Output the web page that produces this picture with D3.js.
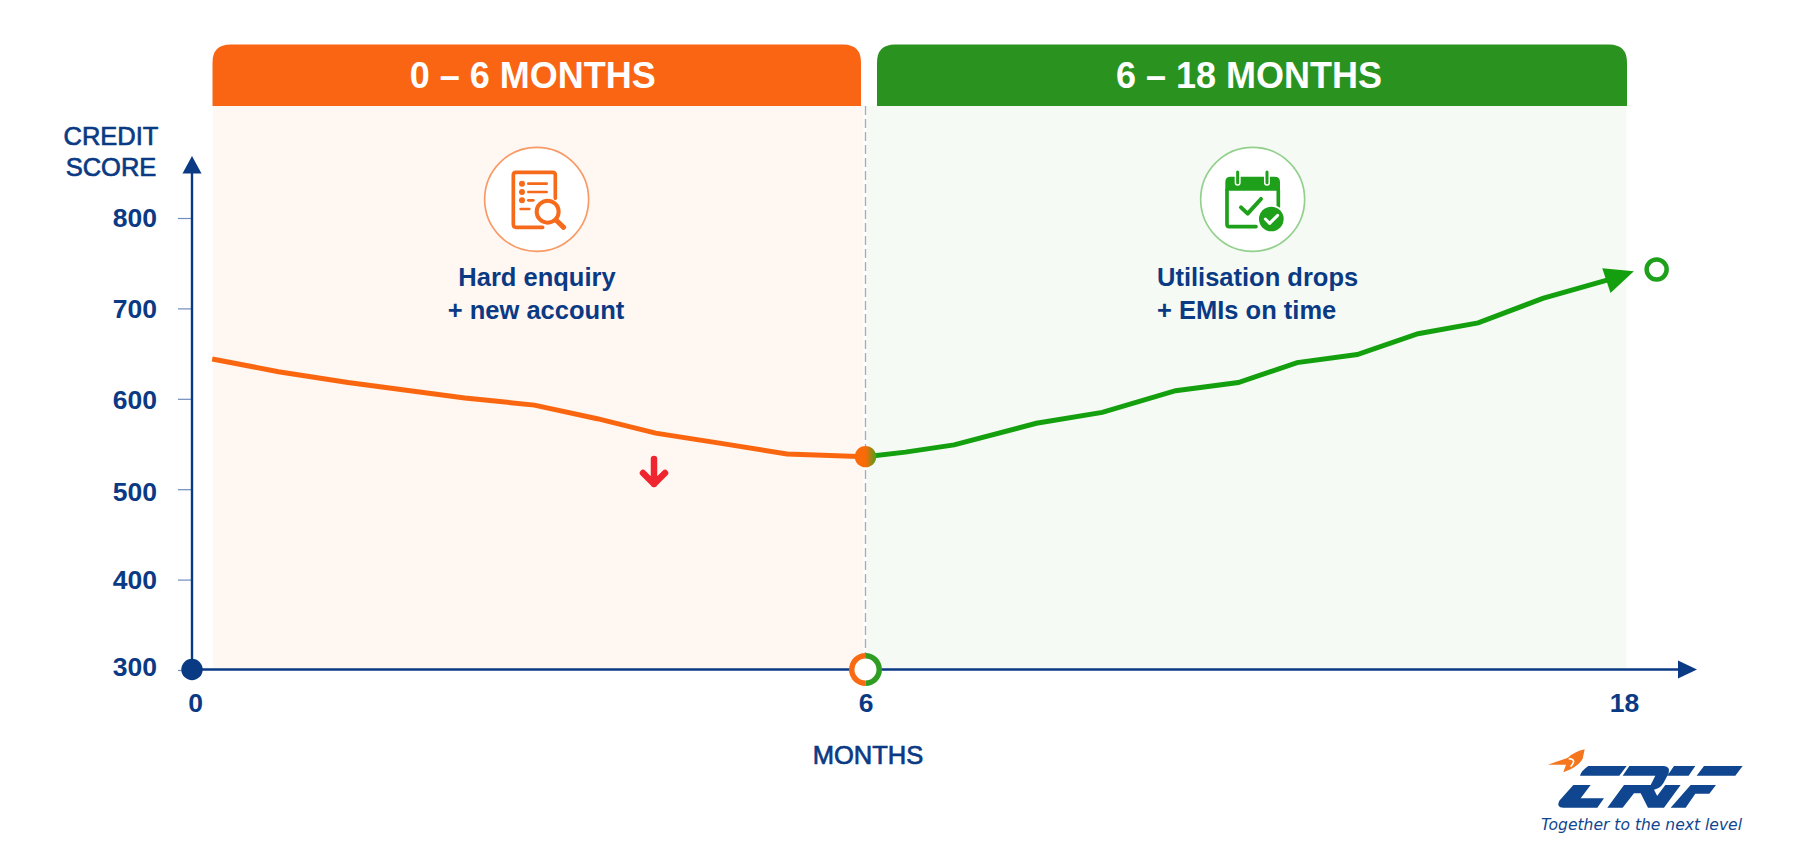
<!DOCTYPE html>
<html><head><meta charset="utf-8">
<script src="https://cdn.jsdelivr.net/npm/d3@7/dist/d3.min.js"></script>
<style>html,body{margin:0;padding:0;background:#fff;overflow:hidden}svg{display:block}
text{font-family:"Liberation Sans",Arial,sans-serif}</style></head>
<body><svg id="c" width="1819" height="865"></svg>
<script>
const phaseLabels = ["0 – 6 MONTHS", "6 – 18 MONTHS"];
const yTicks = [300, 400, 500, 600, 700, 800];
const xTicks = [0, 6, 18];
const declineMonths = [0.18, 0.77, 1.39, 2.43, 3.05, 3.61, 4.13, 4.70, 5.30, 6];
const declineScores = [644, 630, 618, 601, 593, 578, 562, 551, 539, 536];
const recoveryMonths = [6, 6.63, 7.40, 8.70, 9.74, 10.9, 11.89, 12.82, 13.77, 14.73, 15.68, 16.7, 17.8];
const recoveryScores = [536, 541, 549, 573, 585, 609, 618, 640, 649, 672, 684, 711, 733];
const arrowTip = [18.14, 741];
const targetPoint = [18.5, 743];
const navy = "#0b3a84", orange = "#fa660f", green = "#14a00e";

const svg = d3.select("#c");
const x = d3.scaleLinear().domain([0, 6, 18]).range([192, 865.5, 1625]);
const y = d3.scaleLinear().domain([300, 800]).range([670, 218]);
const line = d3.line().x(d => x(d[0])).y(d => y(d[1])).curve(d3.curveLinear);
const zip = (a, b) => a.map((v, i) => [v, b[i]]);

const defs = svg.append("defs");
const g1 = defs.append("linearGradient").attr("id", "mid");
g1.append("stop").attr("offset", "50%").attr("stop-color", "#fb6a08");
g1.append("stop").attr("offset", "95%").attr("stop-color", "#5f9a18");

// panels
const p0 = x(0) + 21, p1 = 863.5, p2 = 866.5, p3 = 1626.5, topY = 106, bot = y(300);
svg.append("rect").attr("x", p0).attr("y", topY).attr("width", p1 - p0).attr("height", bot - topY).attr("fill", "#fff7f1");
svg.append("rect").attr("x", p2).attr("y", topY).attr("width", p3 - p2).attr("height", bot - topY).attr("fill", "#f5fbf4");
const header = (a, b, col, label) => {
  const r = 18, t = 44.5;
  svg.append("path").attr("fill", col).attr("d",
    `M${a},${topY}V${t + r}Q${a},${t} ${a + r},${t}H${b - r}Q${b},${t} ${b},${t + r}V${topY}Z`);
  svg.append("text").attr("x", (a + b) / 2 - (col === "#f96513" ? 4 : 3)).attr("y", 88).attr("text-anchor", "middle")
    .attr("fill", "#fff").attr("font-size", 36).attr("font-weight", 700).text(label);
};
header(212.5, 861, "#f96513", phaseLabels[0]);
header(877, 1627, "#2a931f", phaseLabels[1]);

// divider
svg.append("line").attr("x1", 865.5).attr("x2", 865.5).attr("y1", topY).attr("y2", bot)
  .attr("stroke", "#a9adb0").attr("stroke-width", 1.4).attr("stroke-dasharray", "9 4");

// icons
const iconL = svg.append("g").attr("transform", "translate(400,130) scale(0.3333)");
iconL.append("circle").attr("cx", 410).attr("cy", 208).attr("r", 156).attr("fill", "#fff").attr("stroke", "#f99a66").attr("stroke-width", 5);
const oS = { fill: "none", stroke: "#f66a1c", "stroke-width": 11, "stroke-linecap": "round", "stroke-linejoin": "round" };
const st = (s, o) => { for (const k in o) s.attr(k, o[k]); return s; };
st(iconL.append("path").attr("d", "M466,205V135Q466,127 458,127H348Q340,127 340,135V283Q340,292 348,292H428"), oS);
[[385, 161, 440], [385, 186, 440], [385, 211, 400], [362, 237, 388]].forEach(d =>
  st(iconL.append("line").attr("x1", d[0]).attr("x2", d[2]).attr("y1", d[1]).attr("y2", d[1]), oS).attr("stroke-width", 8));
[161, 186, 211].forEach(c => iconL.append("circle").attr("cx", 366).attr("cy", c).attr("r", 9).attr("fill", "#f66a1c"));
st(iconL.append("circle").attr("cx", 443).attr("cy", 245).attr("r", 33), oS).attr("stroke-width", 12);
st(iconL.append("line").attr("x1", 468).attr("y1", 270).attr("x2", 491).attr("y2", 292), oS).attr("stroke-width", 15);

const iconR = svg.append("g").attr("transform", "translate(1130,130) scale(0.3333)");
iconR.append("circle").attr("cx", 368).attr("cy", 208).attr("r", 156).attr("fill", "#fff").attr("stroke", "#93d08d").attr("stroke-width", 5);
const gC = "#1ea01a";
iconR.append("path").attr("fill", gC).attr("d", "M286,182V156Q286,140 302,140H434Q450,140 450,156V182Z");
st(iconR.append("path").attr("d", "M291,180V283Q291,290 298,290H378M445,180V232"), { fill: "none", stroke: gC, "stroke-width": 11, "stroke-linecap": "round" });
[323, 411].forEach(c => {
  iconR.append("line").attr("x1", c).attr("x2", c).attr("y1", 126).attr("y2", 158).attr("stroke", "#fff").attr("stroke-width", 18).attr("stroke-linecap", "round");
  iconR.append("line").attr("x1", c).attr("x2", c).attr("y1", 126).attr("y2", 158).attr("stroke", gC).attr("stroke-width", 9).attr("stroke-linecap", "round");
});
st(iconR.append("path").attr("d", "M333,232L353,251L393,207"), { fill: "none", stroke: gC, "stroke-width": 12, "stroke-linecap": "round", "stroke-linejoin": "round" });
iconR.append("circle").attr("cx", 424).attr("cy", 267).attr("r", 42).attr("fill", "#fff");
iconR.append("circle").attr("cx", 424).attr("cy", 267).attr("r", 37).attr("fill", gC);
st(iconR.append("path").attr("d", "M406,267L419,280L443,256"), { fill: "none", stroke: "#fff", "stroke-width": 9, "stroke-linecap": "round", "stroke-linejoin": "round" });

// captions
const cap = (px, py, anchor, s) => svg.append("text").attr("x", px).attr("y", py).attr("text-anchor", anchor)
  .attr("fill", navy).attr("font-size", 25.5).attr("font-weight", 700).text(s);
cap(537, 286, "middle", "Hard enquiry");
cap(536, 319, "middle", "+ new account");
cap(1157, 286, "start", "Utilisation drops");
cap(1157, 319, "start", "+ EMIs on time");

// axes through D3
const yAxis = svg.append("g").attr("transform", "translate(192,0)")
  .call(d3.axisLeft(y).tickValues(yTicks).tickSize(14).tickPadding(21).tickFormat(d3.format("d")));
yAxis.select(".domain").remove();
yAxis.selectAll("line").attr("stroke", "#6f8cbb").attr("stroke-width", 1.2);
yAxis.selectAll("text").attr("fill", navy).attr("font-size", 26.5).attr("font-weight", 700).attr("font-family", "Liberation Sans");
const labelNudge = { 300: -3, 500: 3, 600: 1, 700: 1 };
yAxis.selectAll(".tick text").attr("transform", d => `translate(0,${labelNudge[d] || 0})`);
svg.append("line").attr("x1", 192).attr("x2", 192).attr("y1", 172).attr("y2", 670).attr("stroke", navy).attr("stroke-width", 2.4);
svg.append("path").attr("d", "M192,156L201.5,173.5H182.5Z").attr("fill", navy);
svg.append("line").attr("x1", 192).attr("x2", 1680).attr("y1", 669.5).attr("y2", 669.5).attr("stroke", navy).attr("stroke-width", 2.4);
svg.append("path").attr("d", "M1697,669.5L1678,660.5V678.5Z").attr("fill", navy);
const xAxis = svg.append("g").attr("transform", "translate(0,670)")
  .call(d3.axisBottom(x).tickValues(xTicks).tickSize(0).tickPadding(23).tickFormat(d3.format("d")));
xAxis.select(".domain").remove();
xAxis.selectAll("text").attr("fill", navy).attr("font-size", 26.5).attr("font-weight", 700).attr("font-family", "Liberation Sans");
xAxis.selectAll(".tick").filter(d => d === 0).select("text").attr("dx", 3);
xAxis.selectAll(".tick").filter(d => d === 18).select("text").attr("dx", -1);

svg.append("circle").attr("cx", 192).attr("cy", 669.5).attr("r", 10.7).attr("fill", navy);

// axis titles
const ttl = (px, py, s) => svg.append("text").attr("x", px).attr("y", py).attr("text-anchor", "middle")
  .attr("fill", navy).attr("font-size", 25.5).attr("font-weight", 400).attr("stroke", navy).attr("stroke-width", 0.7).text(s);
ttl(111, 145, "CREDIT");
ttl(111, 176, "SCORE");
ttl(868, 764, "MONTHS");

// ring at month 6
const ringArc = d3.arc().innerRadius(11).outerRadius(16.5);
const ring = svg.append("g").attr("transform", `translate(${x(6)},669.5)`);
ring.append("circle").attr("r", 12).attr("fill", "#fff");
ring.append("path").attr("d", ringArc({ startAngle: Math.PI, endAngle: 2 * Math.PI })).attr("fill", "#fa6a12");
ring.append("path").attr("d", ringArc({ startAngle: 0, endAngle: Math.PI })).attr("fill", "#2e9d22");

// lines
svg.append("path").attr("d", line(zip(declineMonths, declineScores))).attr("fill", "none").attr("stroke", orange).attr("stroke-width", 5);
const rec = zip(recoveryMonths, recoveryScores);
svg.append("path").attr("d", line(rec)).attr("fill", "none").attr("stroke", green).attr("stroke-width", 5);
const last = rec[rec.length - 1];
const ang = Math.atan2(y(arrowTip[1]) - y(last[1]), x(arrowTip[0]) - x(last[0])) * 180 / Math.PI;
svg.append("path").attr("d", "M0,0L-29,-13L-29,13Z").attr("fill", green)
  .attr("transform", `translate(${x(arrowTip[0])},${y(arrowTip[1])}) rotate(${ang})`);
svg.append("circle").attr("cx", x(targetPoint[0])).attr("cy", y(targetPoint[1])).attr("r", 10)
  .attr("fill", "#fff").attr("stroke", "#1ea01a").attr("stroke-width", 4.5);
svg.append("circle").attr("cx", x(6)).attr("cy", y(536)).attr("r", 10.7).attr("fill", "url(#mid)");

// red arrow
st(svg.append("path").attr("d", "M654,459V484M643,473L654,484L665,473"), { fill: "none", stroke: "#ef2630", "stroke-width": 6.5, "stroke-linecap": "round", "stroke-linejoin": "round" });

// logo
const logo = svg.append("g").attr("transform", "translate(1520,730) scale(0.3333)");
logo.append("path").attr("fill", "#f5761d").attr("d", "M84,104L142,84Q165,64 194,58L188,86Q176,110 130,127L138,104Z");
logo.append("path").attr("fill", "none").attr("stroke", "#fff").attr("stroke-width", 5).attr("d", "M146,86Q172,88 152,110");
logo.append("path").attr("fill", "#0f468f").attr("d",
  "M205,108H320L298,137H180Q184,122 205,108Z" +
  "M160,165H212L182,205H252L232,233H130Q108,232 118,212Z" +
  "M328,108H432Q452,110 446,130L430,160Q420,176 402,179L430,233H384L362,190H342L308,233H262L312,165H392L406,137H308Z" +
  "M462,108H526L506,137H442Z M436,165H482L432,233H385Z" +
  "M552,108H668L646,137H530Z M512,165H588L568,191H526L497,233H452Z");
svg.append("text").attr("x", 1541).attr("y", 830).attr("fill", "#0f468f").attr("font-size", 15.5).attr("font-style", "italic")
  .attr("style", "font-family:'DejaVu Sans'").attr("textLength", 201).attr("lengthAdjust", "spacingAndGlyphs").text("Together to the next level");
</script></body></html>
